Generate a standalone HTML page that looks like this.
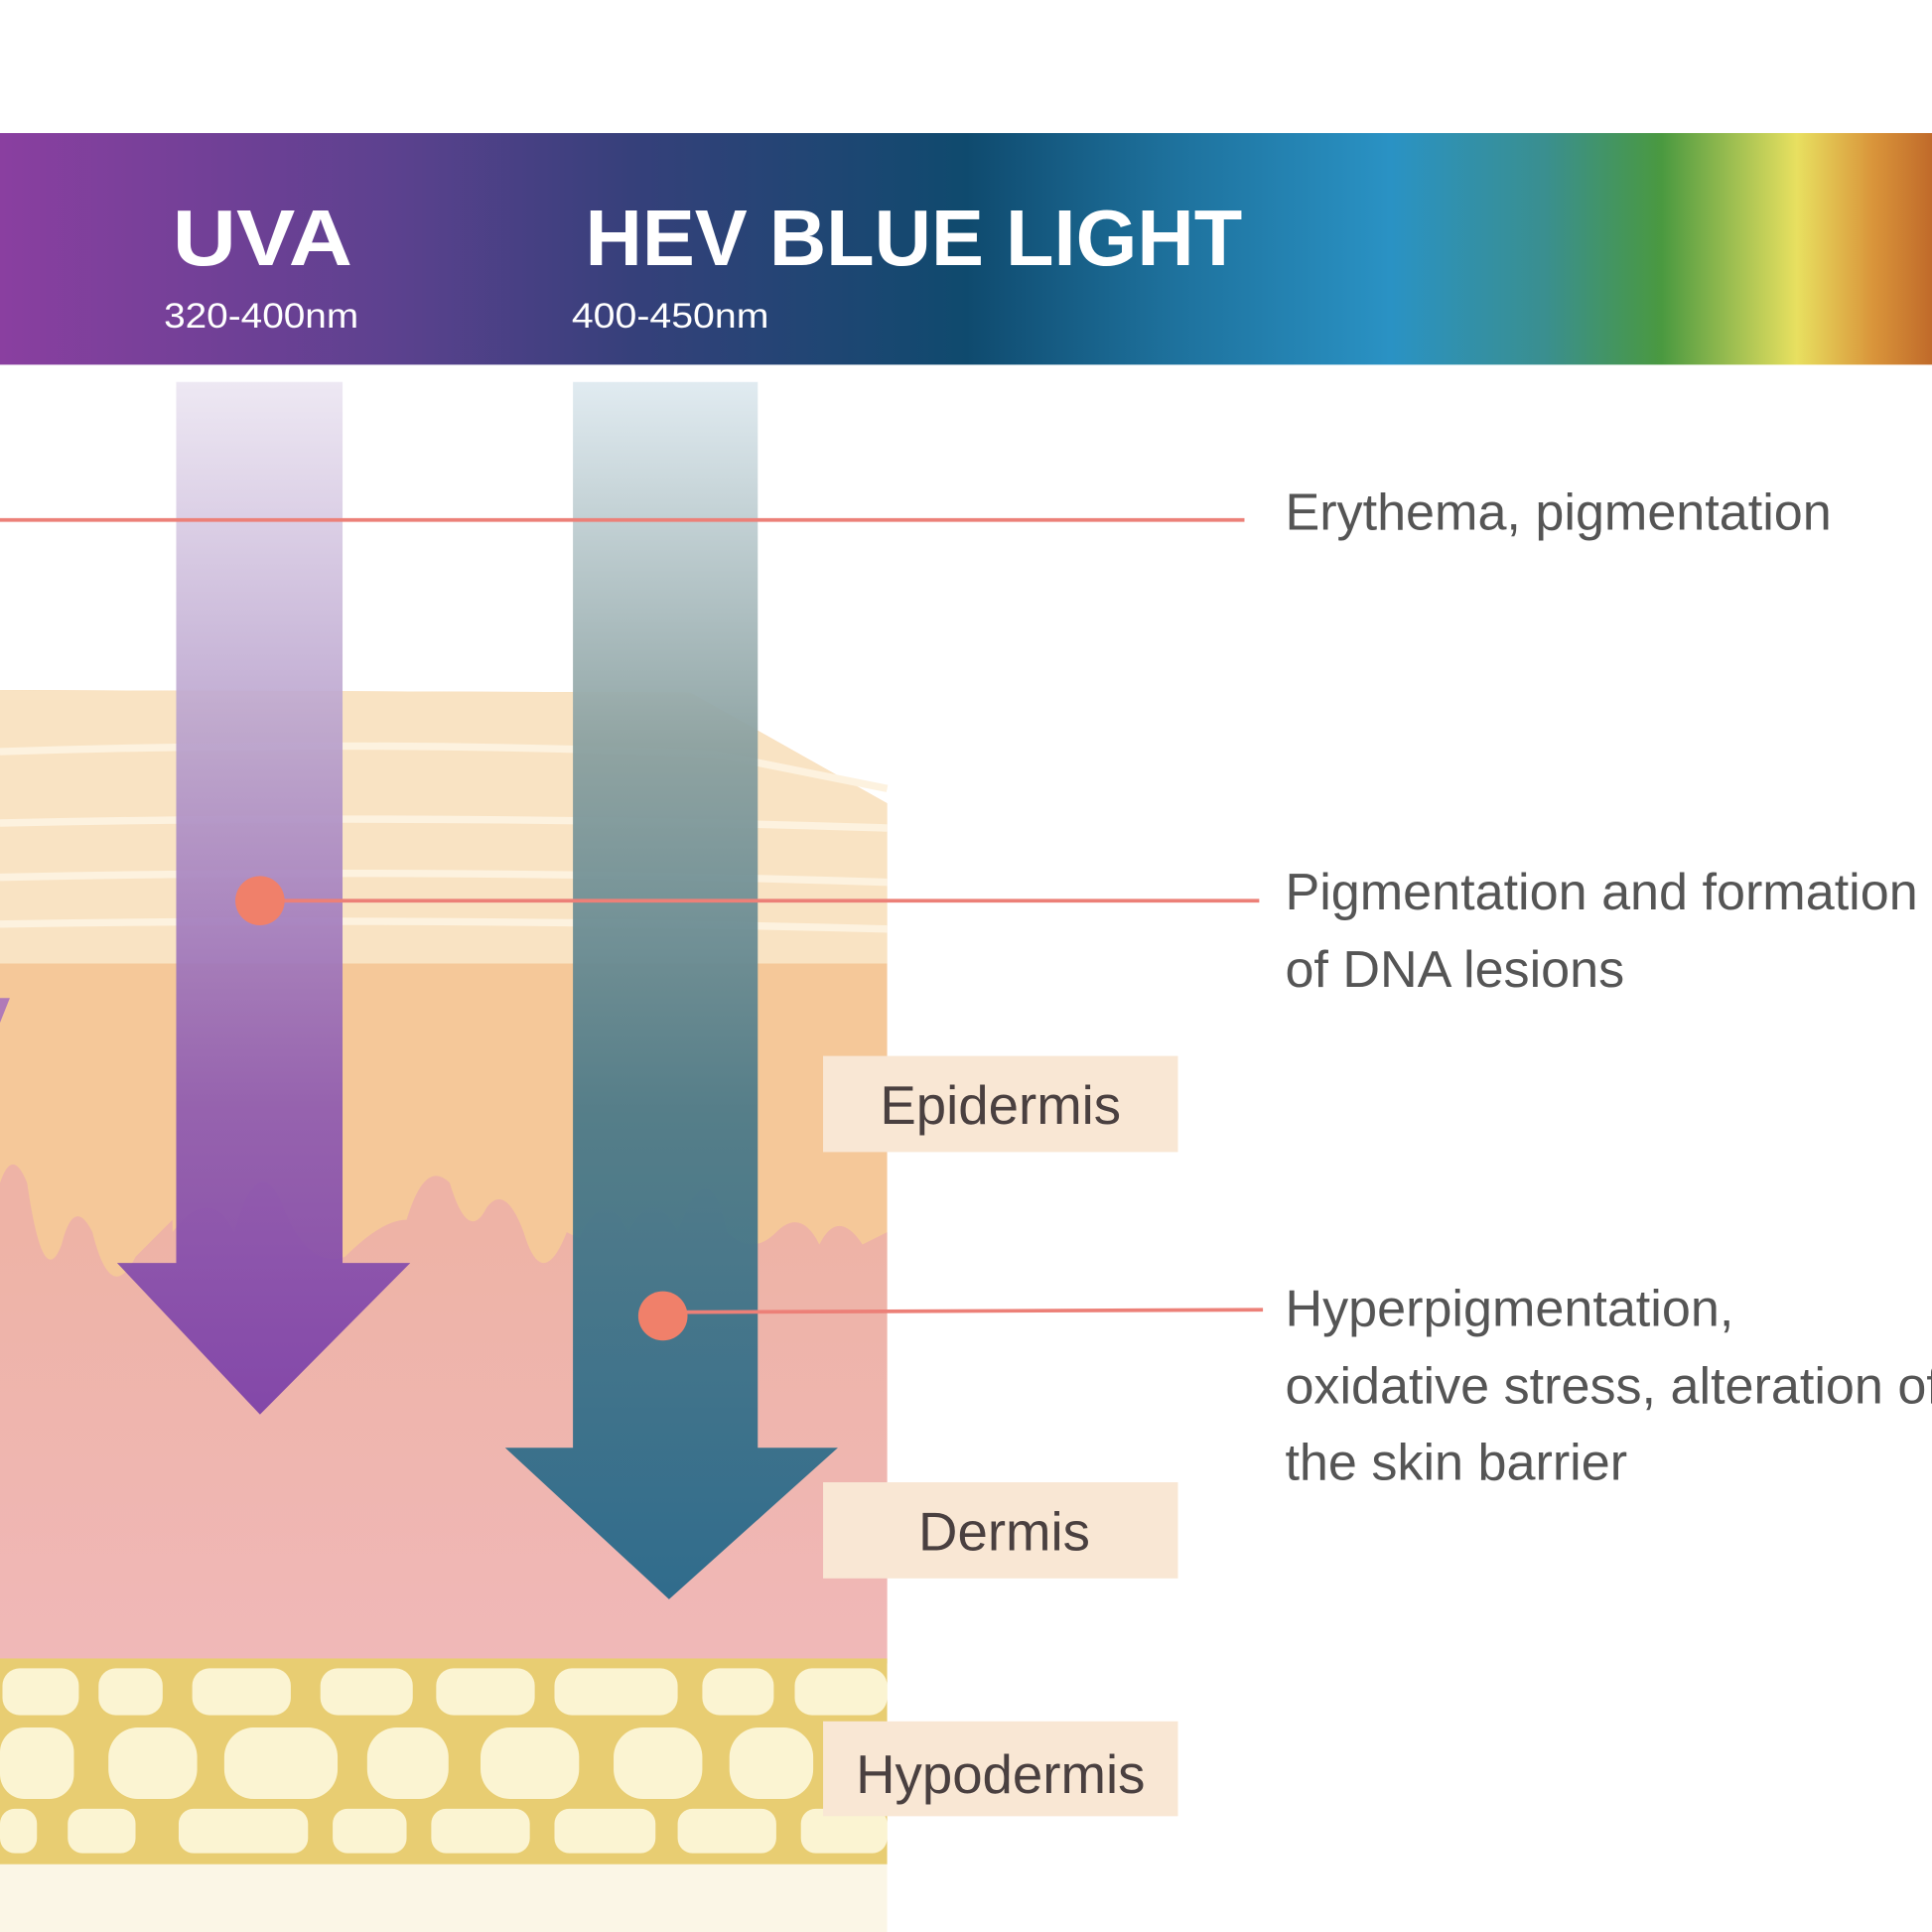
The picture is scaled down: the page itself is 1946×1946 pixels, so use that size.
<!DOCTYPE html>
<html><head><meta charset="utf-8"><style>
html,body{margin:0;padding:0;background:#fff;}
svg{display:block;}
text{font-family:"Liberation Sans",sans-serif;}
</style></head><body>
<svg width="1946" height="1946" viewBox="0 0 1568 1568" xmlns="http://www.w3.org/2000/svg">
<defs>
<linearGradient id="spec" x1="0" x2="1" y1="0" y2="0">
<stop offset="0" stop-color="#8a3fa0"/>
<stop offset="0.2" stop-color="#5d418f"/>
<stop offset="0.33" stop-color="#35407a"/>
<stop offset="0.5" stop-color="#0f4a6e"/>
<stop offset="0.6" stop-color="#1d6f9a"/>
<stop offset="0.72" stop-color="#2a92c4"/>
<stop offset="0.8" stop-color="#3a8f8f"/>
<stop offset="0.86" stop-color="#4a9940"/>
<stop offset="0.93" stop-color="#e8e060"/>
<stop offset="0.97" stop-color="#d9943a"/>
<stop offset="1" stop-color="#c06a2a"/>
</linearGradient>
<linearGradient id="uva" x1="0" x2="0" y1="310" y2="1148" gradientUnits="userSpaceOnUse">
<stop offset="0" stop-color="#ece6f2"/>
<stop offset="0.35" stop-color="#b8a0cc"/>
<stop offset="0.7" stop-color="#8e5ab0"/>
<stop offset="1" stop-color="#7a3ea8"/>
</linearGradient>
<linearGradient id="hev" x1="0" x2="0" y1="310" y2="1298" gradientUnits="userSpaceOnUse">
<stop offset="0" stop-color="#dfeaf0"/>
<stop offset="0.3" stop-color="#8aa0a0"/>
<stop offset="0.6" stop-color="#4d7a88"/>
<stop offset="1" stop-color="#26688a"/>
</linearGradient>
<linearGradient id="derm" x1="0" x2="0" y1="1000" y2="1350" gradientUnits="userSpaceOnUse">
<stop offset="0" stop-color="#eeb3a6"/>
<stop offset="1" stop-color="#f0b8b8"/>
</linearGradient>
</defs>
<rect width="1568" height="1568" fill="#fff"/>
<rect x="0" y="108" width="1568" height="188" fill="url(#spec)"/>
<text x="140" y="215" font-size="64" font-weight="bold" fill="#fff" textLength="146" lengthAdjust="spacingAndGlyphs">UVA</text>
<text x="133" y="266" font-size="28" fill="#fff" textLength="158" lengthAdjust="spacingAndGlyphs">320-400nm</text>
<text x="475" y="215" font-size="64" font-weight="bold" fill="#fff">HEV BLUE LIGHT</text>
<text x="464" y="266" font-size="28" fill="#fff" textLength="160" lengthAdjust="spacingAndGlyphs">400-450nm</text>

<rect x="0" y="1510" width="720" height="58" fill="#fbf6e6"/>
<path d="M0 560 L560 562 L720 652 L720 1350 L0 1350 Z" fill="#f5c899"/>
<path d="M0 560 L560 562 L720 652 L720 782 L0 782 Z" fill="#f9e3c3"/>
<g stroke="#fdf2df" stroke-width="6" fill="none">
<path d="M0 610 Q300 600 580 612 L720 640"/>
<path d="M0 668 Q350 660 720 672"/>
<path d="M0 712 Q350 704 720 716"/>
<path d="M0 750 Q350 744 720 754"/>
</g>
<path d="M0 960 Q10 930 22 960 Q35 1050 50 1010 Q60 970 75 1000 Q90 1060 110 1020 L140 990 L143 1350 L0 1350 Z" fill="url(#derm)"/>
<path d="M140 1000 Q170 960 190 1000 Q210 930 230 980 Q250 1030 280 1020 Q310 990 330 990 Q345 940 365 960 Q380 1010 395 980 Q410 960 425 1000 Q440 1050 460 1000 L470 1005 Q490 960 510 1000 Q530 960 550 1000 Q575 930 590 1000 Q610 1020 630 1000 Q650 980 665 1010 Q680 980 700 1010 L720 1000 L720 1350 L140 1350 Z" fill="url(#derm)"/>
<rect x="0" y="1346" width="720" height="167" fill="#e8cd72"/>
<g fill="#fbf4d2">
<rect x="2" y="1354" width="62" height="38" rx="14"/><rect x="80" y="1354" width="52" height="38" rx="14"/><rect x="156" y="1354" width="80" height="38" rx="14"/><rect x="260" y="1354" width="75" height="38" rx="14"/><rect x="354" y="1354" width="80" height="38" rx="14"/><rect x="450" y="1354" width="100" height="38" rx="14"/><rect x="570" y="1354" width="58" height="38" rx="14"/><rect x="645" y="1354" width="75" height="38" rx="14"/>
<rect x="0" y="1402" width="60" height="58" rx="20"/><rect x="88" y="1402" width="72" height="58" rx="24"/><rect x="182" y="1402" width="92" height="58" rx="24"/><rect x="298" y="1402" width="66" height="58" rx="24"/><rect x="390" y="1402" width="80" height="58" rx="24"/><rect x="498" y="1402" width="72" height="58" rx="24"/><rect x="592" y="1402" width="68" height="58" rx="24"/><rect x="685" y="1402" width="35" height="58" rx="14"/>
<rect x="0" y="1468" width="30" height="36" rx="12"/><rect x="55" y="1468" width="55" height="36" rx="12"/><rect x="145" y="1468" width="105" height="36" rx="12"/><rect x="270" y="1468" width="60" height="36" rx="12"/><rect x="350" y="1468" width="80" height="36" rx="12"/><rect x="450" y="1468" width="82" height="36" rx="12"/><rect x="550" y="1468" width="80" height="36" rx="12"/><rect x="650" y="1468" width="70" height="36" rx="12"/>
</g>
<path d="M0 810 L8 810 L0 830 Z" fill="#b07ab8"/>
<path d="M143 310 L278 310 L278 1025 L333 1025 L211 1148 L95 1025 L143 1025 Z" fill="url(#uva)" opacity="0.92"/>
<path d="M465 310 L615 310 L615 1175 L680 1175 L543 1298 L410 1175 L465 1175 Z" fill="url(#hev)" opacity="0.95"/>
<g stroke="#ec8078" stroke-width="3">
<line x1="0" y1="422" x2="1010" y2="422"/>
<line x1="211" y1="731" x2="1022" y2="731"/>
<line x1="538" y1="1065" x2="1025" y2="1063"/>
</g>
<circle cx="211" cy="731" r="20" fill="#f0806a"/>
<circle cx="538" cy="1068" r="20" fill="#f0806a"/>
<g fill="#f9e7d4">
<rect x="668" y="857" width="288" height="78"/>
<rect x="668" y="1203" width="288" height="78"/>
<rect x="668" y="1397" width="288" height="77"/>
</g>
<g font-size="44" fill="#4a4040" text-anchor="middle">
<text x="812" y="912">Epidermis</text>
<text x="815" y="1258">Dermis</text>
<text x="812" y="1455">Hypodermis</text>
</g>
<g font-size="42" fill="#555">
<text x="1043" y="430">Erythema, pigmentation</text>
<text x="1043" y="738">Pigmentation and formation</text>
<text x="1043" y="801">of DNA lesions</text>
<text x="1043" y="1076">Hyperpigmentation,</text>
<text x="1043" y="1139">oxidative stress, alteration of</text>
<text x="1043" y="1201">the skin barrier</text>
</g>
</svg>
</body></html>
